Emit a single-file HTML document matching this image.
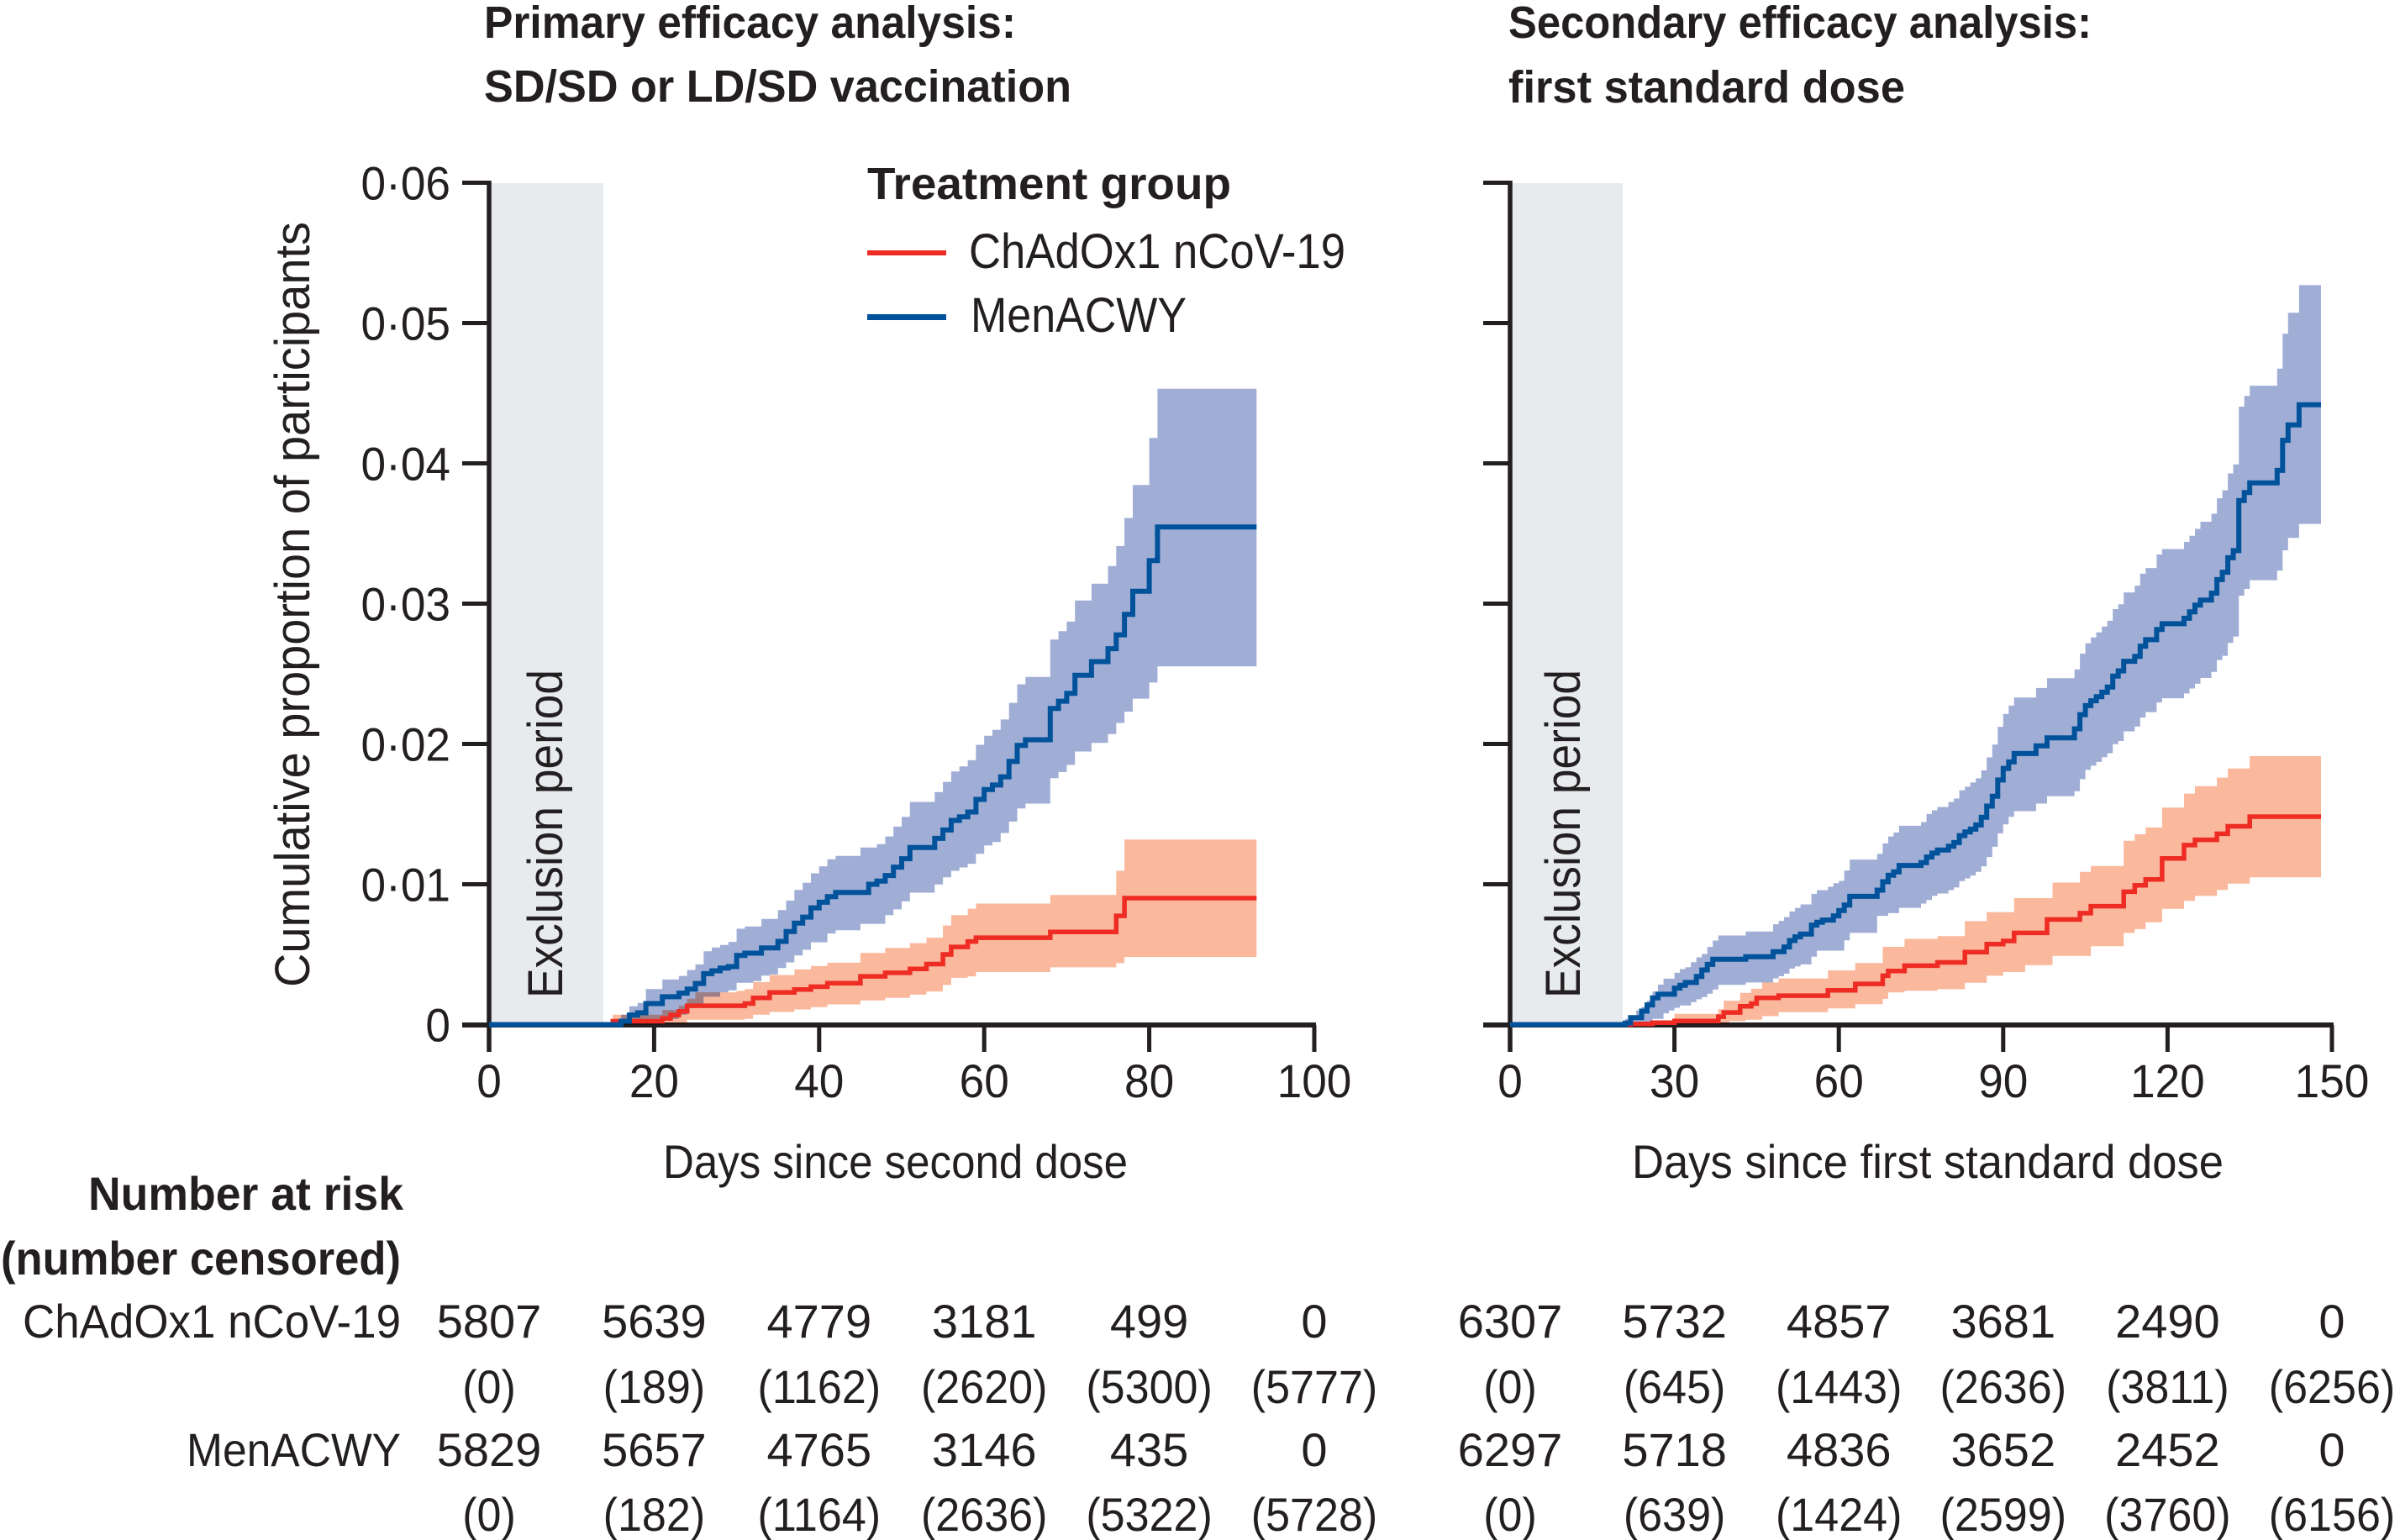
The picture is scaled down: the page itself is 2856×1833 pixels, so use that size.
<!DOCTYPE html>
<html lang="en">
<head>
<meta charset="utf-8">
<title>Cumulative proportion of participants by treatment group</title>
<style>
  html, body { margin: 0; padding: 0; background: #ffffff; }
  svg { display: block; }
  text { font-family: "Liberation Sans", sans-serif; fill: #231f20; }
  .bold { font-weight: bold; }
  .band { mix-blend-mode: multiply; stroke: none; }
  .line { fill: none; stroke-linejoin: miter; stroke-linecap: butt; }
</style>
</head>
<body>
<svg id="figure" xmlns="http://www.w3.org/2000/svg" width="2856" height="1833" viewBox="0 0 2856 1833">
  <rect x="0" y="0" width="2856" height="1833" fill="#ffffff"/>

  <text class="bold" x="576" y="45" font-size="54" textLength="633" lengthAdjust="spacingAndGlyphs">Primary efficacy analysis:</text>
  <text class="bold" x="576" y="121" font-size="54" textLength="699" lengthAdjust="spacingAndGlyphs">SD/SD or LD/SD vaccination</text>
  <text class="bold" x="1795" y="45" font-size="54" textLength="694" lengthAdjust="spacingAndGlyphs">Secondary efficacy analysis:</text>
  <text class="bold" x="1795" y="122" font-size="54" textLength="472" lengthAdjust="spacingAndGlyphs">first standard dose</text>

  <rect x="582" y="218" width="136" height="999" fill="#e8ebee"/>
  <rect x="1797" y="218" width="134" height="999" fill="#e8ebee"/>

  <g id="axes"></g>

  <path id="primary-chad-band" class="band" fill="#fab89d"/>
  <path id="primary-men-band" class="band" fill="#a0aed6"/>
  <path id="secondary-chad-band" class="band" fill="#fab89d"/>
  <path id="secondary-men-band" class="band" fill="#a0aed6"/>

  <path id="primary-chad-line" class="line" stroke="#ee2c24" stroke-width="5.5"/>
  <path id="primary-men-line" class="line" stroke="#00529b" stroke-width="6"/>
  <path id="secondary-chad-line" class="line" stroke="#ee2c24" stroke-width="5.5"/>
  <path id="secondary-men-line" class="line" stroke="#00529b" stroke-width="6"/>

  <text font-size="58" transform="translate(669,1188) rotate(-90)" textLength="391" lengthAdjust="spacingAndGlyphs">Exclusion period</text>
  <text font-size="58" transform="translate(1880,1188) rotate(-90)" textLength="391" lengthAdjust="spacingAndGlyphs">Exclusion period</text>
  <text font-size="58" transform="translate(368,1175) rotate(-90)" textLength="911" lengthAdjust="spacingAndGlyphs">Cumulative proportion of participants</text>

  <text font-size="56" x="789" y="1402" textLength="553" lengthAdjust="spacingAndGlyphs">Days since second dose</text>
  <text font-size="56" x="1942" y="1402" textLength="704" lengthAdjust="spacingAndGlyphs">Days since first standard dose</text>

  <g>
    <text class="bold" x="1032" y="237" font-size="54" textLength="433" lengthAdjust="spacingAndGlyphs">Treatment group</text>
    <rect x="1032" y="298" width="94" height="6" fill="#ee2c24"/>
    <text x="1153" y="319" font-size="58" textLength="448" lengthAdjust="spacingAndGlyphs">ChAdOx1 nCoV-19</text>
    <rect x="1032" y="374" width="94" height="7" fill="#00529b"/>
    <text x="1155" y="395" font-size="58" textLength="257" lengthAdjust="spacingAndGlyphs">MenACWY</text>
  </g>

  <g>
    <text class="bold" x="105" y="1440" font-size="56" textLength="375" lengthAdjust="spacingAndGlyphs">Number at risk</text>
    <text class="bold" x="1" y="1517" font-size="56" textLength="476" lengthAdjust="spacingAndGlyphs">(number censored)</text>
    <text x="27" y="1592" font-size="56" textLength="450" lengthAdjust="spacingAndGlyphs">ChAdOx1 nCoV-19</text>
    <text x="222" y="1745" font-size="56" textLength="255" lengthAdjust="spacingAndGlyphs">MenACWY</text>
  </g>

  <g id="tick-labels"></g>
  <g id="risk-table"></g>
</svg>

<script>
// Axis ticks
const yTickValues = [0, 0.01, 0.02, 0.03, 0.04, 0.05, 0.06];
const yTickLabels = ["0", "0·01", "0·02", "0·03", "0·04", "0·05", "0·06"];
const primaryXTicks = [0, 20, 40, 60, 80, 100];
const secondaryXTicks = [0, 30, 60, 90, 120, 150];

// Last day of follow-up drawn
const primaryEndDay = 93;
const secondaryEndDay = 148;

// Primary panel: MenACWY
const primaryMenDays = [0,16,17,18,19,21,23,24,25,26,27,28,29,30,31,33,35,36,37,38,39,40,41,42,46,47,48,49,50,51,54,55,56,57,58,59,60,61,62,63,64,65,68,69,70,71,73,75,76,77,78,80,81];
const primaryMenValues = [0,.00024,.00068,.00084,.0015,.00198,.00224,.00253,.00293,.00363,.00383,.00403,.00413,.00493,.00509,.00547,.00593,.00663,.00723,.00766,.00832,.00872,.00912,.00942,.0100,.01022,.01062,.01122,.01182,.01262,.01327,.01387,.01455,.01481,.01515,.01605,.01675,.01707,.01766,.01876,.0199,.0203,.02253,.02305,.02361,.02489,.02587,.02679,.02778,.02924,.03088,.03307,.03547];
const primaryMenUpperDays = [16,17,18,19,21,23,24,25,26,27,28,29,30,31,33,35,36,37,38,39,40,41,42,45,47,48,49,50,51,54,55,56,57,58,59,60,61,62,63,64,65,68,69,70,71,73,75,76,77,78,80,81];
const primaryMenUpper = [.0007,.0013,.00154,.00253,.00321,.00347,.00389,.00429,.00523,.00549,.00567,.00589,.00683,.00699,.00753,.00816,.00884,.0096,.0101,.01078,.01128,.01178,.01202,.01262,.01286,.01341,.01411,.01481,.01587,.01657,.0173,.01804,.0184,.01884,.01994,.02058,.021,.02174,.02293,.02425,.02477,.02744,.02804,.02872,.03022,.03142,.03268,.03411,.03611,.03846,.04181,.04531];
const primaryMenLowerDays = [16,21,23,24,25,26,28,29,30,32,33,34,35,36,37,38,39,41,42,45,48,49,50,51,54,55,56,57,58,59,60,61,62,63,64,65,68,69,70,71,73,75,76,77,78,80,81];
const primaryMenLower = [0,.0004,.0007,.00124,.00144,.00198,.0023,.00244,.00298,.0031,.00349,.00357,.00403,.00443,.00493,.00533,.00587,.00649,.00672,.00718,.0078,.00821,.00878,.0094,.00998,.0105,.01096,.0112,.01146,.01217,.01277,.01301,.01365,.01447,.0154,.01575,.01756,.018,.0185,.01946,.02007,.0207,.0215,.0223,.02323,.02438,.02553];

// Primary panel: ChAdOx1 nCoV-19
const primaryChadDays = [0,15,21,22,23,24,31,32,34,37,39,41,45,48,51,53,55,56,58,59,68,76,77];
const primaryChadValues = [0,.00024,.00044,.00068,.00094,.00134,.0015,.0019,.00229,.0025,.0027,.00295,.00344,.00369,.00397,.00431,.005,.00553,.00592,.00619,.0066,.00775,.00901];
const primaryChadUpperDays = [15,21,23,24,25,30,31,32,34,37,39,41,45,48,51,53,55,56,58,59,68,76,77];
const primaryChadUpper = [.0007,.00104,.00134,.00184,.0023,.0024,.00253,.00303,.00353,.00393,.00417,.00441,.00511,.00546,.0058,.00619,.00706,.0078,.00826,.00862,.00924,.01096,.01319];
const primaryChadLowerDays = [15,24,31,32,34,37,39,41,45,48,51,53,55,56,58,59,68,76,77];
const primaryChadLower = [0,.00034,.0004,.0007,.0009,.00108,.00124,.00144,.00172,.0019,.00213,.00236,.00282,.00333,.00344,.00374,.00408,.00438,.00482];

// Secondary panel: MenACWY
const secondaryMenDays = [0,21,22,24,25,26,27,30,31,32,34,35,36,37,43,48,50,51,52,53,55,56,57,59,60,61,62,67,68,69,70,71,75,76,77,78,80,81,82,83,84,85,86,87,88,89,90,91,92,96,98,103,104,105,106,107,108,109,110,111,112,114,115,116,118,119,123,124,125,126,128,129,130,131,132,133,134,135,140,141,142,144];
const secondaryMenValues = [0,.0001,.0005,.00096,.0014,.0019,.00216,.0026,.0028,.003,.00343,.00389,.00429,.00465,.00483,.00519,.00553,.00599,.00625,.00645,.00709,.00729,.00745,.00775,.00813,.00852,.00914,.00958,.01018,.01064,.01088,.01134,.01154,.01194,.01222,.01244,.01271,.01297,.01347,.01373,.01393,.01423,.01477,.01557,.01627,.01743,.01826,.01872,.01932,.01987,.02044,.02108,.02209,.02273,.02308,.02337,.02369,.02406,.02484,.02521,.02589,.02624,.02697,.02743,.02816,.02857,.02896,.02942,.0299,.03025,.03075,.03171,.03224,.03327,.03378,.03735,.03792,.03861,.0395,.04164,.04274,.04418];
const secondaryMenUpperDays = [21,23,24,25,26,27,28,30,31,32,33,34,35,36,37,38,43,48,49,50,51,52,53,55,56,58,59,60,61,62,67,68,69,70,71,75,76,77,78,80,81,82,83,84,85,86,87,88,89,90,91,92,96,98,103,104,105,106,107,108,109,110,111,112,114,115,116,118,119,123,124,125,126,128,129,130,131,132,133,134,135,140,141,142,144];
const secondaryMenUpper = [.0004,.001,.00126,.0017,.00236,.00285,.00327,.00369,.00395,.00409,.00445,.00479,.00503,.00553,.00599,.00635,.00663,.00715,.00739,.00766,.00806,.00832,.00856,.00932,.00958,.00982,.01008,.01024,.01098,.01176,.01216,.01291,.01341,.01369,.01417,.01443,.01501,.01527,.01551,.01587,.01611,.01669,.01695,.01725,.01755,.01812,.01904,.01996,.02122,.02214,.02273,.02331,.02399,.02468,.02532,.02644,.02718,.02759,.02796,.02837,.02878,.02961,.02995,.0308,.03128,.03213,.03254,.0335,.03389,.0344,.03483,.03533,.03584,.03641,.03751,.03808,.03928,.03992,.04404,.0448,.04553,.04675,.04924,.05073,.0527];
const secondaryMenLowerDays = [21,25,26,28,29,30,31,33,34,35,36,37,38,43,48,49,50,51,52,53,55,56,61,62,67,69,71,75,76,77,78,80,81,82,83,84,85,86,87,88,89,90,91,92,96,98,103,104,105,106,107,108,109,110,111,112,114,115,116,118,119,123,124,125,126,128,129,130,131,132,133,134,135,140,141,142,144];
const secondaryMenLower = [0,.00016,.0004,.0008,.001,.0012,.00136,.0016,.0018,.00196,.0022,.0025,.00283,.003,.00329,.00345,.00363,.00399,.00415,.00429,.00483,.00527,.006,.00653,.00775,.00794,.00832,.00862,.00888,.00918,.00934,.00958,.00978,.01022,.01042,.01062,.01088,.01128,.01194,.01267,.01363,.01427,.01481,.01521,.01575,.01627,.01663,.01749,.01815,.01845,.01872,.01906,.01934,.01998,.02021,.0209,.02124,.02188,.02227,.02296,.02326,.0236,.02395,.02429,.0247,.02514,.02598,.02628,.0272,.02766,.03057,.03105,.03167,.03236,.0338,.03469,.03568];

// Secondary panel: ChAdOx1 nCoV-19
const secondaryChadDays = [0,22,26,30,38,39,42,44,45,49,58,63,68,69,72,78,83,87,90,92,98,104,106,112,114,116,119,123,125,129,131,135];
const secondaryChadValues = [0,.00004,.00014,.00026,.00056,.00086,.0013,.0015,.0019,.00206,.00244,.0029,.00348,.00382,.0042,.00443,.00516,.00573,.00596,.00653,.00749,.00794,.00844,.00947,.00993,.01035,.01184,.01279,.01317,.0136,.01413,.01482];
const secondaryChadUpperDays = [22,26,30,38,39,42,44,46,49,58,63,68,72,78,83,87,92,99,104,106,112,114,116,119,123,125,129,131,135];
const secondaryChadUpper = [.0001,.0003,.00076,.0011,.0017,.00226,.00255,.003,.00329,.00386,.00439,.00554,.00611,.0063,.00737,.00802,.00901,.01012,.01088,.0113,.0131,.01356,.01405,.01547,.01646,.01699,.0176,.01825,.01913];
const secondaryChadLowerDays = [22,40,43,46,49,58,63,68,69,72,78,83,87,90,94,99,106,112,114,116,119,123,125,129,131,135];
const secondaryChadLower = [0,.00024,.00034,.0006,.00088,.00115,.00145,.00183,.00229,.00241,.00252,.00298,.00348,.00374,.00424,.00489,.00558,.00653,.0068,.00729,.00825,.00882,.00917,.00959,.01004,.0105];

// Number at risk (number censored)
const primaryChadAtRisk = ["5807", "5639", "4779", "3181", "499", "0"];
const primaryChadCensored = ["(0)", "(189)", "(1162)", "(2620)", "(5300)", "(5777)"];
const primaryMenAtRisk = ["5829", "5657", "4765", "3146", "435", "0"];
const primaryMenCensored = ["(0)", "(182)", "(1164)", "(2636)", "(5322)", "(5728)"];
const secondaryChadAtRisk = ["6307", "5732", "4857", "3681", "2490", "0"];
const secondaryChadCensored = ["(0)", "(645)", "(1443)", "(2636)", "(3811)", "(6256)"];
const secondaryMenAtRisk = ["6297", "5718", "4836", "3652", "2452", "0"];
const secondaryMenCensored = ["(0)", "(639)", "(1424)", "(2599)", "(3760)", "(6156)"];

const SVG_NS = "http://www.w3.org/2000/svg";
const yScale = v => 1219.5 - v * 16700;
const primaryX = d => 582 + d * 9.82;
const secondaryX = d => 1797 + d * 6.52;

function stepLine(xScale, days, values, endDay) {
  let d = "M" + xScale(days[0]).toFixed(1) + " " + yScale(values[0]).toFixed(1);
  for (let i = 1; i < days.length; i++) {
    d += "H" + xScale(days[i]).toFixed(1) + "V" + yScale(values[i]).toFixed(1);
  }
  return d + "H" + xScale(endDay).toFixed(1);
}

function stepBand(xScale, upDays, upVals, loDays, loVals, endDay) {
  let d = stepLine(xScale, upDays, upVals, endDay);
  d += "V" + yScale(loVals[loVals.length - 1]).toFixed(1);
  for (let i = loDays.length - 1; i > 0; i--) {
    d += "H" + xScale(loDays[i]).toFixed(1) + "V" + yScale(loVals[i - 1]).toFixed(1);
  }
  d += "H" + xScale(loDays[0]).toFixed(1) + "V" + yScale(upVals[0]).toFixed(1) + "Z";
  return d;
}

document.getElementById("primary-men-band").setAttribute("d", stepBand(primaryX, primaryMenUpperDays, primaryMenUpper, primaryMenLowerDays, primaryMenLower, primaryEndDay));
document.getElementById("primary-chad-band").setAttribute("d", stepBand(primaryX, primaryChadUpperDays, primaryChadUpper, primaryChadLowerDays, primaryChadLower, primaryEndDay));
document.getElementById("secondary-men-band").setAttribute("d", stepBand(secondaryX, secondaryMenUpperDays, secondaryMenUpper, secondaryMenLowerDays, secondaryMenLower, secondaryEndDay));
document.getElementById("secondary-chad-band").setAttribute("d", stepBand(secondaryX, secondaryChadUpperDays, secondaryChadUpper, secondaryChadLowerDays, secondaryChadLower, secondaryEndDay));
document.getElementById("primary-men-line").setAttribute("d", stepLine(primaryX, primaryMenDays, primaryMenValues, primaryEndDay));
document.getElementById("primary-chad-line").setAttribute("d", stepLine(primaryX, primaryChadDays, primaryChadValues, primaryEndDay));
document.getElementById("secondary-men-line").setAttribute("d", stepLine(secondaryX, secondaryMenDays, secondaryMenValues, secondaryEndDay));
document.getElementById("secondary-chad-line").setAttribute("d", stepLine(secondaryX, secondaryChadDays, secondaryChadValues, secondaryEndDay));

const axesGroup = document.getElementById("axes");
const tickLabelGroup = document.getElementById("tick-labels");
const riskGroup = document.getElementById("risk-table");

function drawSegment(x1, y1, x2, y2, width) {
  const el = document.createElementNS(SVG_NS, "line");
  el.setAttribute("x1", x1);
  el.setAttribute("y1", y1);
  el.setAttribute("x2", x2);
  el.setAttribute("y2", y2);
  el.setAttribute("stroke", "#231f20");
  el.setAttribute("stroke-width", width);
  axesGroup.appendChild(el);
  return el;
}

function drawLabel(parent, str, x, y, anchor, scaleX) {
  const el = document.createElementNS(SVG_NS, "text");
  el.setAttribute("transform", "translate(" + x + "," + y + ") scale(" + scaleX + ",1)");
  el.setAttribute("text-anchor", anchor);
  el.setAttribute("font-size", "56");
  el.textContent = str;
  parent.appendChild(el);
  return el;
}

function drawAxes(xScale, xTicks, axisLeft) {
  const yAxis = drawSegment(xScale(0), 215, xScale(0), 1252, 5.5);
  
  
  const xAxis = drawSegment(axisLeft, 1220, xScale(xTicks[xTicks.length - 1]) + 2, 1220, 6);
  
  
  yTickValues.forEach(v => {
    const tick = drawSegment(axisLeft, yScale(v), xScale(0), yScale(v), 5);
    
    
  });
  xTicks.forEach(t => {
    const tick = drawSegment(xScale(t), 1220, xScale(t), 1252, 5);
    
    
    const label = drawLabel(tickLabelGroup, String(t), xScale(t), 1306, "middle", 0.95);
    
    
  });
}

drawAxes(primaryX, primaryXTicks, 550);
drawAxes(secondaryX, secondaryXTicks, 1765);

yTickValues.forEach((v, i) => {
  const label = drawLabel(tickLabelGroup, yTickLabels[i], 536, yScale(v) + 20, "end", 0.95);
  
  
});

function drawRiskRow(xScale, ticks, values, baseline, scaleX) {
  values.forEach((str, i) => {
    const cell = drawLabel(riskGroup, str, xScale(ticks[i]), baseline, "middle", scaleX);
    
    
  });
}

drawRiskRow(primaryX, primaryXTicks, primaryChadAtRisk, 1592, 1);
drawRiskRow(primaryX, primaryXTicks, primaryChadCensored, 1670, 0.93);
drawRiskRow(primaryX, primaryXTicks, primaryMenAtRisk, 1745, 1);
drawRiskRow(primaryX, primaryXTicks, primaryMenCensored, 1822, 0.93);
drawRiskRow(secondaryX, secondaryXTicks, secondaryChadAtRisk, 1592, 1);
drawRiskRow(secondaryX, secondaryXTicks, secondaryChadCensored, 1670, 0.93);
drawRiskRow(secondaryX, secondaryXTicks, secondaryMenAtRisk, 1745, 1);
drawRiskRow(secondaryX, secondaryXTicks, secondaryMenCensored, 1822, 0.93);
</script>
</body>
</html>
